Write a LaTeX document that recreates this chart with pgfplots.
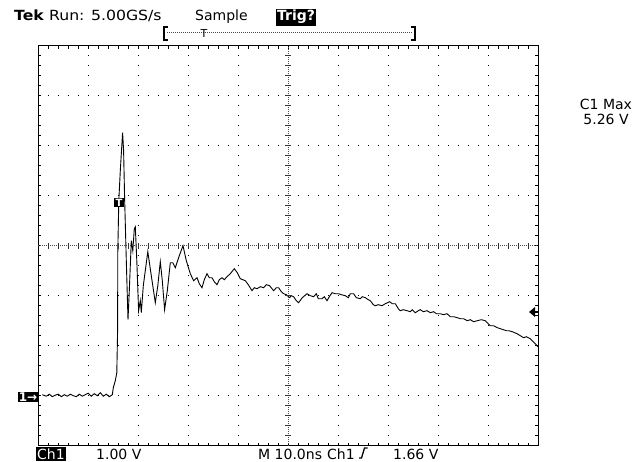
\documentclass[border=0pt]{standalone}
\usepackage{pgfplots}
\pgfplotsset{compat=1.18}
\usepackage{fontspec}
\setmainfont{DejaVu Sans}

% picture is laid out in pixels of the 642x461 screen: 1px = 1pt, y measured from the bottom
\begin{document}
\begin{tikzpicture}[x=1pt,y=1pt]
\fontsize{14}{16}\selectfont
\useasboundingbox (0,0) rectangle (642,461);

\begin{axis}[
    at={(38.3pt,15.3pt)}, anchor=south west,
    width=500pt, height=400pt, scale only axis,
    xmin=0, xmax=100, ymin=-1, ymax=7,
    xtick={0,10,...,100}, ytick={-1,0,...,7},
    minor x tick num=4, minor y tick num=4,
    xticklabels={}, yticklabels={},
    tick align=inside,
    major tick length=3pt, minor tick length=3pt,
    every tick/.style={black, line width=0.8pt},
    grid=major,
    major grid style={black, line width=0.9pt, dash pattern=on 0.9pt off 9.1pt, dash phase=0.45pt},
    axis line style={black, line width=1.1pt},
  ]
  % Ch1 trace, time in ns (10 ns/div), volts (1 V/div, ground 3 div below centre)
  \addplot[black, line width=0.9pt] coordinates {
    (0.8,0.02) (1.6,-0.01) (2.2,0.03) (2.8,-0.02) (3.4,0.01) (4.0,0.03)
    (4.6,-0.02) (5.2,0.02) (5.8,-0.01) (6.4,0.03) (7.0,0.00) (7.6,-0.02)
    (8.2,0.03) (8.8,-0.01) (9.4,0.02) (10.0,0.05) (10.6,-0.01) (11.2,0.04)
    (11.8,0.00) (12.4,0.06) (13.0,-0.01) (13.6,0.03) (14.2,-0.02) (14.8,0.02)
    (15.0,0.16) (15.4,0.30) (15.7,0.46) (15.86,1.3) (15.9,2.9) (16.1,3.9)
    (16.4,4.5) (16.7,5.0) (16.86,5.26) (17.06,4.9) (17.26,3.96) (17.6,2.7)
    (17.94,1.52) (18.2,2.1) (18.6,3.1) (18.9,2.9) (19.2,3.34) (19.4,3.38)
    (19.7,2.7) (20.06,1.7) (20.4,1.9) (20.6,1.66) (21.0,2.2) (21.9,2.88)
    (22.6,2.4) (23.4,1.86) (23.9,2.2) (24.4,2.68) (24.8,2.3) (25.26,1.72)
    (25.8,2.1) (26.4,2.66) (26.9,2.66) (27.4,2.56) (28.2,2.8) (28.94,3.0)
    (29.6,2.7) (30.4,2.44) (31.06,2.3) (31.74,2.36) (32.2,2.24) (32.74,2.16)
    (33.2,2.32) (33.74,2.44) (34.2,2.36) (34.74,2.36) (35.2,2.28) (35.74,2.22)
    (36.2,2.32) (36.74,2.36) (37.2,2.32) (37.74,2.38) (38.4,2.44) (39.2,2.54)
    (39.8,2.46) (40.4,2.34) (41.4,2.3) (42.0,2.22) (42.74,2.1) (43.2,2.16)
    (43.74,2.14) (44.4,2.18) (45.06,2.16) (45.6,2.22) (46.26,2.2) (47.06,2.1)
    (47.6,2.16) (48.06,2.16) (48.6,2.08) (49.06,2.04) (49.6,2.02) (50.26,1.96)
    (50.6,2.0) (51.06,1.98) (51.6,1.9) (52.06,1.86) (52.8,1.96) (53.74,2.04)
    (54.4,2.0) (55.06,1.98) (55.6,2.04) (56.0,1.94) (56.74,1.94) (57.2,1.98)
    (57.74,1.9) (58.2,1.98) (58.74,2.06) (59.4,2.04) (60.06,2.04) (60.6,2.02)
    (61.4,2.0) (62.0,1.96) (62.4,2.04) (63.06,2.04) (63.6,1.96) (64.4,1.94)
    (64.8,1.98) (65.4,1.96) (66.0,1.92) (66.4,1.9) (67.0,1.82) (67.4,1.8)
    (68.0,1.82) (68.74,1.8) (69.4,1.84) (70.26,1.88) (70.8,1.84) (71.4,1.84)
    (72.0,1.74) (72.4,1.7) (73.0,1.72) (73.74,1.7) (74.4,1.68) (74.8,1.72)
    (75.4,1.66) (76.0,1.7) (76.4,1.72) (77.0,1.68) (77.74,1.7) (78.4,1.66)
    (79.06,1.68) (79.6,1.64) (80.4,1.64) (81.0,1.62) (81.74,1.64) (82.4,1.58)
    (83.06,1.58) (83.8,1.56) (84.4,1.54) (85.06,1.54) (85.8,1.5) (86.4,1.52)
    (87.06,1.48) (87.8,1.5) (88.6,1.52) (89.4,1.5) (90.0,1.44) (90.4,1.4)
    (91.06,1.4) (91.8,1.36) (92.4,1.34) (93.0,1.32) (93.6,1.3) (94.06,1.3)
    (94.8,1.28) (95.74,1.24) (96.4,1.2) (97.06,1.16) (97.6,1.18) (98.4,1.14)
    (99.0,1.08) (99.74,1.0) (100,0.97)
  };
\end{axis}

% centre cross of the graticule
\draw[black!70, line width=0.9pt, dash pattern=on 1pt off 1pt] (38.3,215.3) -- (538.3,215.3);
\draw[black!70, line width=0.9pt, dash pattern=on 1pt off 1pt] (288.3,15.3) -- (288.3,415.3);
\foreach \i in {1,...,49} {
  \draw[black!80, line width=0.8pt] (38.3+10*\i,212.3) -- (38.3+10*\i,218.3);
}
\foreach \i in {1,...,39} {
  \draw[black!80, line width=0.8pt] (285.3,15.3+10*\i) -- (291.3,15.3+10*\i);
}

% header
\node[anchor=base west, inner sep=0] at (14,440) {\scalebox{1.12}[1]{\textbf{Tek} Run: 5.00GS/s}};
\node[anchor=base west, inner sep=0] at (195,440) {Sample};
\node[anchor=base west, fill=black, text=white, inner xsep=1pt, inner ysep=1.5pt, font=\bfseries] at (276,440) {Trig?};

% record bar
\draw[black!70, line width=1pt, dash pattern=on 1pt off 1pt] (167,428) -- (412,428);
\draw[black, line width=1.6pt] (168,434) -- (164,434) -- (164,421) -- (168,421);
\draw[black, line width=1.6pt] (411,434) -- (415,434) -- (415,421) -- (411,421);
\node[inner sep=0, font=\fontsize{11}{12}\selectfont] at (204,428) {T};

% measurement readout
\node[inner sep=0] at (606,357) {C1 Max};
\node[inner sep=0] at (606,342) {5.26 V};

% footer
\node[anchor=base west, fill=black, text=white, inner xsep=1pt, inner ysep=1.5pt] at (36,2) {Ch1};
\node[anchor=base west, inner sep=0] at (96,2) {1.00 V};
\node[anchor=base west, inner sep=0] at (258,2) {M 10.0ns};
\node[anchor=base west, inner sep=0] at (327,2) {Ch1};
\draw[black, line width=1.3pt] (359,3) -- (361.5,3) -- (364.5,13) -- (367.5,13);
\node[anchor=base west, inner sep=0] at (393,2) {1.66 V};

% ground marker, trigger position and trigger level
\node[fill=black, text=white, inner xsep=1pt, inner ysep=1pt, font=\fontsize{12}{13}\bfseries] at (28,64) {1→};
\node[fill=black, text=white, inner xsep=1.5pt, inner ysep=0.5pt, font=\fontsize{10}{11}\bfseries] at (119,258.5) {T};
\fill[black] (529,149) -- (535,154) -- (535,144) -- cycle;
\draw[black, line width=1.2pt] (534,149) -- (538,149);
\end{tikzpicture}
\end{document}
